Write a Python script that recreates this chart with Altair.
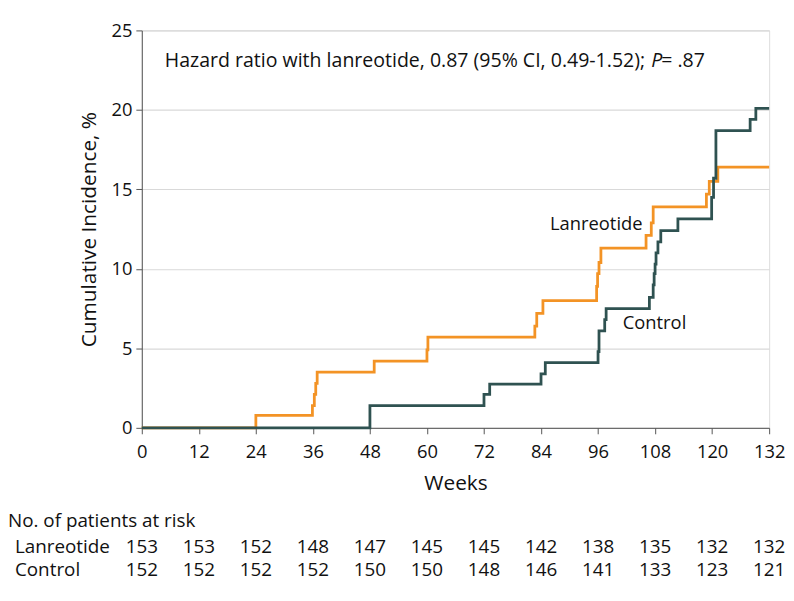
import altair as alt
import pandas as pd

# ---- data ----
lan_weeks = [0, 24, 35.9, 36.3, 36.6, 36.9, 48.9, 60.0, 60.2, 82.7, 83.1, 84.4,
             95.7, 95.9, 96.2, 96.6, 106.1, 107.2, 107.6, 118.8, 119.4, 121.2, 132]
lan_vals = [0, 0.78, 1.4, 2.1, 2.8, 3.5, 4.2, 4.9, 5.7, 6.4, 7.2, 8.0,
            8.9, 9.7, 10.4, 11.3, 12.1, 12.9, 13.9, 14.7, 15.5, 16.4, 16.4]

ctl_weeks = [0, 48, 72, 73.2, 84, 84.9, 96.0, 96.2, 97.4, 97.7, 106.8, 107.6,
             107.8, 108.0, 108.2, 108.6, 109.2, 112.8, 119.9, 120.3, 120.8,
             128.0, 129.2, 132]
ctl_vals = [0, 1.4, 2.1, 2.75, 3.4, 4.1, 4.8, 6.1, 6.8, 7.5, 8.2, 9.0,
            9.7, 10.3, 11.0, 11.7, 12.4, 13.15, 14.5, 15.7, 18.7,
            19.4, 20.1, 20.1]

risk_weeks = [0, 12, 24, 36, 48, 60, 72, 84, 96, 108, 120, 132]
risk_lan = [153, 153, 152, 148, 147, 145, 145, 142, 138, 135, 132, 132]
risk_ctl = [152, 152, 152, 152, 150, 150, 148, 146, 141, 133, 123, 121]

x_ticks = list(range(0, 133, 12))
y_ticks = [0, 5, 10, 15, 20, 25]

ORANGE = "#f39325"
TEAL = "#2f5251"
FONT = "Open Sans"

curves = pd.concat([
    pd.DataFrame({"week": lan_weeks, "inc": lan_vals, "group": "Lanreotide"}),
    pd.DataFrame({"week": ctl_weeks, "inc": ctl_vals, "group": "Control"}),
])

xscale = alt.Scale(domain=[0, 132], nice=False, zero=False)
yscale = alt.Scale(domain=[0, 25], nice=False)

base = alt.Chart(curves)

lines = base.mark_line(interpolate="step-after", strokeWidth=2.8).encode(
    x=alt.X("week:Q", scale=xscale,
            axis=alt.Axis(values=x_ticks, title="Weeks", grid=False,
                          labelFontSize=18.5, titleFontSize=21,
                          titleFontWeight="normal", labelPadding=9,
                          tickSize=6, titlePadding=12,
                          domainColor="#555", tickColor="#555",
                          labelColor="#111", titleColor="#111",
                          labelFont=FONT, titleFont=FONT, labelFlush=False)),
    y=alt.Y("inc:Q", scale=yscale,
            axis=alt.Axis(values=y_ticks, title="Cumulative Incidence, %",
                          grid=True, gridColor="#d9d9d9", gridWidth=1.2,
                          labelFontSize=18.5, titleFontSize=21,
                          titleFontWeight="normal", labelPadding=4,
                          tickSize=6, titlePadding=12,
                          domainColor="#555", tickColor="#555",
                          labelColor="#111", titleColor="#111",
                          labelFont=FONT, titleFont=FONT)),
    color=alt.Color("group:N",
                    scale=alt.Scale(domain=["Lanreotide", "Control"],
                                    range=[ORANGE, TEAL]),
                    legend=None),
    detail="group:N",
)

# curve labels
lab_df = pd.DataFrame({"week": [85.9, 101.2], "inc": [12.42, 6.19],
                       "txt": ["Lanreotide", "Control"]})
labels = alt.Chart(lab_df).mark_text(align="left", baseline="alphabetic",
                                     fontSize=18.5, font=FONT, color="#111").encode(
    x=alt.X("week:Q", scale=xscale), y=alt.Y("inc:Q", scale=yscale), text="txt:N")

# hazard ratio text
HR_SIZE = 19.7
hr1 = alt.Chart(pd.DataFrame({"week": [105.9], "inc": [22.7],
                              "txt": ["Hazard ratio with lanreotide, 0.87 (95% CI, 0.49-1.52);"]})
                ).mark_text(align="right", baseline="alphabetic", fontSize=HR_SIZE,
                            font=FONT, color="#111").encode(
    x=alt.X("week:Q", scale=xscale), y=alt.Y("inc:Q", scale=yscale), text="txt:N")
hr2 = alt.Chart(pd.DataFrame({"week": [107.2], "inc": [22.7], "txt": ["P"]})
                ).mark_text(align="left", baseline="alphabetic", fontSize=HR_SIZE,
                            font=FONT, fontStyle="italic", color="#111").encode(
    x=alt.X("week:Q", scale=xscale), y=alt.Y("inc:Q", scale=yscale), text="txt:N")
hr3 = alt.Chart(pd.DataFrame({"week": [109.3], "inc": [22.7], "txt": ["= .87"]})
                ).mark_text(align="left", baseline="alphabetic", fontSize=HR_SIZE,
                            font=FONT, color="#111").encode(
    x=alt.X("week:Q", scale=xscale), y=alt.Y("inc:Q", scale=yscale), text="txt:N")

# risk table
RISK_SIZE = 19
risk_df_l = pd.DataFrame({"week": risk_weeks, "n": risk_lan})
risk_df_c = pd.DataFrame({"week": risk_weeks, "n": risk_ctl})
row_l = alt.Chart(risk_df_l).mark_text(align="center", baseline="alphabetic",
                                       fontSize=RISK_SIZE, font=FONT, color="#111").encode(
    x=alt.X("week:Q", scale=xscale), y=alt.value(527), text="n:Q")
row_c = alt.Chart(risk_df_c).mark_text(align="center", baseline="alphabetic",
                                       fontSize=RISK_SIZE, font=FONT, color="#111").encode(
    x=alt.X("week:Q", scale=xscale), y=alt.value(551), text="n:Q")

hdr_df = pd.DataFrame({"txt": ["No. of patients at risk", "Lanreotide", "Control"],
                       "px": [-135, -128, -128], "py": [501, 527, 551]})
hdr = alt.Chart(hdr_df).mark_text(align="left", baseline="alphabetic",
                                  fontSize=RISK_SIZE, font=FONT, color="#111").encode(
    x=alt.X("px:Q", scale=None), y=alt.Y("py:Q", scale=None), text="txt:N")

chart = alt.layer(lines, labels, hr1, hr2, hr3, row_l, row_c, hdr).properties(
    width=633, height=401,
    autosize=alt.AutoSizeParams(type="none"),
    padding={"left": 135, "top": 20, "right": 17, "bottom": 160},
).configure_view(strokeWidth=0).configure(font=FONT)

chart.save("out.html", embed_options={"renderer": "svg", "actions": False})
